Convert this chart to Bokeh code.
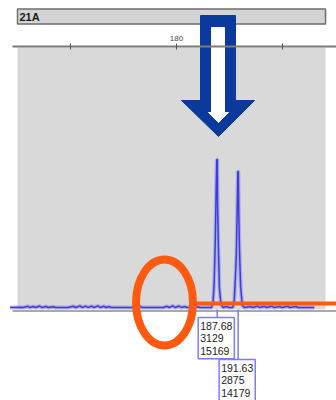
from bokeh.plotting import figure
from bokeh.models import LinearAxis, FixedTicker, Label, Range1d
from bokeh.core.properties import value
from bokeh.embed import file_html
from bokeh.resources import INLINE

# ---- data ----
sample_name = "21A"
axis_ticks = [160, 180, 200]
axis_tick_labels = {160: "", 180: "180", 200: ""}

peak_sizes = [187.68, 191.63]
peak_heights = [3129, 2875]
peak_areas = [15169, 14179]

trace_bp = [148.6, 150.5, 151.0, 152.0, 152.3, 153.0, 153.4, 154.2, 154.6, 155.4,
            155.8, 156.8, 157.2, 159.5, 160.6, 161.0, 161.8, 162.2, 162.9, 163.3,
            164.0, 164.4, 165.2, 165.6, 166.3, 166.7, 167.3, 167.6, 172.8, 173.1,
            173.5, 177.5, 178.2, 178.6, 179.3, 179.7, 180.5, 180.9, 181.6, 182.0,
            183.2, 184.0, 184.4, 186.6, 186.9, 187.1, 187.3, 187.5, 187.6, 187.7,
            187.75, 187.9, 188.1, 188.4, 188.8, 189.5, 189.9, 190.6, 190.9, 191.1,
            191.3, 191.5, 191.57, 191.67, 191.75, 191.9, 192.1, 192.4, 192.8, 194.0,
            194.4, 195.3, 195.7, 196.6, 197.0, 198.0, 198.4, 199.5, 199.9, 201.0,
            201.4, 202.5, 202.9, 206.0]
trace_rfu = [0, 5, 0, 25, 0, 20, 0, 30, 0, 20,
             0, 15, 0, 0, 25, 0, 35, 0, 30, 0,
             30, 0, 35, 0, 25, 0, 20, 0, 0, 30,
             0, 0, 25, 0, 35, 0, 30, 0, 20, 0,
             0, 15, 0, 0, 120, 500, 1300, 2600, 3129, 3129,
             2200, 1300, 400, 60, 0, 20, 0, 0, 150, 600,
             1150, 2400, 2875, 2875, 2000, 1150, 450, 50, 0, 20,
             0, 30, 0, 25, 0, 30, 0, 20, 0, 25,
             0, 20, 0, 0]

# ---- pixel <-> data helpers (page coordinates of the picture) ----
def bx(px):
    return 180 + (px - 176) / 5.3

def ry(py):
    return (307 - py) / 0.0473

ORANGE = "#ff5a0f"
DARK_BLUE = "#0c3a9c"

p = figure(width=336, height=400, output_backend="svg", toolbar_location=None,
           x_axis_location=None, y_axis_location=None, min_border=0,
           x_range=Range1d(bx(0), bx(336)), y_range=Range1d(ry(400), ry(0)),
           background_fill_color="white", border_fill_color="white")
p.outline_line_color = None
p.grid.visible = False

# header bar
p.quad(left=[bx(17)], right=[bx(325)], top=[ry(8.5)], bottom=[ry(23.5)],
       fill_color="#d4d4d4", line_color="#6e6e6e", line_width=1.5)
p.text(x=[bx(19)], y=[ry(16.5)], text=[sample_name], text_font=value("Liberation Sans"),
       text_font_size="11px", text_font_style="bold", text_baseline="middle",
       text_color="#1a1a1a")

# grey plot area
p.quad(left=[bx(17)], right=[bx(325)], top=[ry(47)], bottom=[ry(309)],
       fill_color="#d9d9d9", line_color=None)
p.line([bx(12), bx(336)], [ry(310.5), ry(310.5)], line_color="#8c8c8c", line_width=1.5)

# size axis on top
ax = LinearAxis(fixed_location=ry(45.5), bounds=(bx(12), bx(336)),
                ticker=FixedTicker(ticks=axis_ticks),
                major_label_overrides=axis_tick_labels)
ax.axis_line_color = "#7a7a7a"
ax.axis_line_width = 2
ax.major_tick_in = 3
ax.major_tick_out = 3
ax.major_tick_line_color = "#555555"
ax.minor_tick_line_color = None
ax.major_label_text_font = "Liberation Sans"
ax.major_label_text_font_size = "8px"
ax.major_label_text_color = "#444444"
ax.major_label_standoff = 2
p.add_layout(ax, "above")

# trace
p.line(trace_bp, trace_rfu, line_color="#7070f0", line_width=4, line_alpha=0.4)
p.line(trace_bp, trace_rfu, line_color="#3c3ce0", line_width=1.5)

# peak label connectors and boxes
box_tops = [ry(317), ry(359)]
for s, h, a, top in zip(peak_sizes, peak_heights, peak_areas, box_tops):
    p.line([s, s], [ry(309), top], line_color="#7b7bff", line_width=1.5)
    p.add_layout(Label(x=s, y=top, x_offset=-19, text=f"{s:.2f}\n{h}\n{a}",
                       text_baseline="top", text_align="left",
                       text_font="Liberation Sans", text_font_size="10.5px",
                       text_line_height=1.05, text_color="#222222",
                       background_fill_color="white", border_line_color="#7b7bff",
                       border_line_width=1.5, padding=2))

# orange highlight
p.line([bx(190), bx(336)], [ry(303), ry(303)], line_color=ORANGE, line_width=4)
p.ellipse(x=[bx(164)], y=[ry(302)], width=57 / 5.3, height=86 / 0.0473,
          fill_color=None, line_color=ORANGE, line_width=8)

# blue arrow
outer = [(200, 15), (235, 15), (235, 100), (254, 100), (218, 136), (181, 100), (200, 100)]
inner = [(211, 27), (224, 27), (224, 112), (228, 112), (218, 122), (208, 112), (211, 112)]
p.patch([bx(x) for x, y in outer], [ry(y) for x, y in outer], fill_color=DARK_BLUE, line_color=DARK_BLUE)
p.patch([bx(x) for x, y in inner], [ry(y) for x, y in inner], fill_color="white", line_color="white")

open("out.html", "w").write(file_html(p, INLINE))
